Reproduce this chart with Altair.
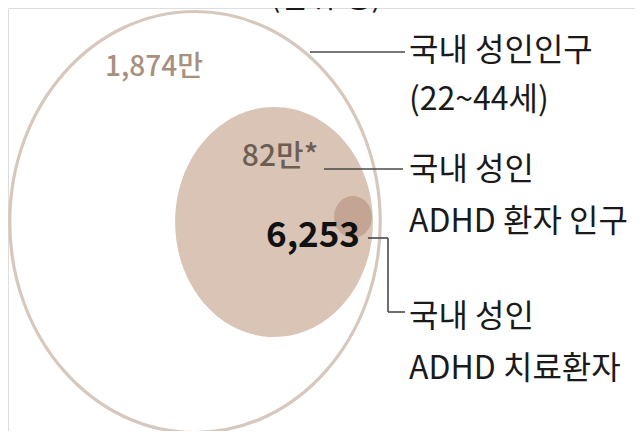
import altair as alt
import pandas as pd

# ---- chart content ----
unit_note = "(단위:명)"
groups = ["국내 성인인구", "국내 성인 ADHD 환자 인구", "국내 성인 ADHD 치료환자"]
value_labels = ["1,874만", "82만*", "6,253"]
group_line1 = ["국내 성인인구", "국내 성인", "국내 성인"]
group_line2 = ["(22~44세)", "ADHD 환자 인구", "ADHD 치료환자"]

# ---- layout (reference pixel space) ----
W, H = 627, 423
OFF = 8
circle_cx = [195, 274, 353]
circle_cy = [222, 222, 217]
circle_h = [421, 230, 42]
circle_aspect = [0.88, 0.86, 0.9]
k = 0.5523


def ellipse_path(a):
    return (f"M 0 -1 C {k*a:.4f} -1 {a} -{k} {a} 0 C {a} {k} {k*a:.4f} 1 0 1 "
            f"C -{k*a:.4f} 1 -{a} {k} -{a} 0 C -{a} -{k} -{k*a:.4f} -1 0 -1 Z")


value_x = [154, 280, 313]
value_y = [68, 157, 236]
value_color = ["#a8907f", "#6d5e55", "#111111"]
value_size = [28, 30, 35]
value_weight = [500, 500, "bold"]

label_x = 409
line1_y = [51, 170, 317]
line2_y = [100, 222, 369]

seg_x = [310, 324, 368, 388, 388]
seg_y = [52, 169, 238, 238, 312]
seg_x2 = [405, 403, 388, 388, 405]
seg_y2 = [52, 169, 238, 312, 312]

xs = alt.Scale(domain=[OFF, OFF + W], range=[0, W], nice=False, zero=False)
ys = alt.Scale(domain=[OFF, OFF + H], range=[0, H], nice=False, zero=False)

circles = pd.DataFrame({
    "group": groups, "cx": circle_cx, "cy": circle_cy,
    "size": [h * h for h in circle_h],
})


def circ(i, **kw):
    return alt.Chart(circles.iloc[[i]]).mark_point(shape=ellipse_path(circle_aspect[i]), **kw).encode(
        x=alt.X("cx:Q", scale=xs, axis=None),
        y=alt.Y("cy:Q", scale=ys, axis=None),
        size=alt.Size("size:Q", scale=None, legend=None),
    )


outer = circ(0, filled=False, stroke="#d7c8be", strokeWidth=3.2, opacity=1)
inner = circ(1, filled=True, fill="#d9c4b6", opacity=1, strokeWidth=0)
small = circ(2, filled=True, fill="#c4a593", opacity=1, strokeWidth=0)

segs = pd.DataFrame({"x": seg_x, "y": seg_y, "x2": seg_x2, "y2": seg_y2})
leaders = alt.Chart(segs).mark_rule(color="#4a4a4a", strokeWidth=1.6).encode(
    x=alt.X("x:Q", scale=xs, axis=None), y=alt.Y("y:Q", scale=ys, axis=None),
    x2="x2:Q", y2="y2:Q",
)

FONT = "Noto Sans CJK KR"

value_layers = []
for i in range(3):
    d = pd.DataFrame({"t": [value_labels[i]], "x": [value_x[i]], "y": [value_y[i]]})
    value_layers.append(
        alt.Chart(d).mark_text(font=FONT, fontSize=value_size[i], fontWeight=value_weight[i],
                               color=value_color[i], align="center", baseline="middle").encode(
            x=alt.X("x:Q", scale=xs, axis=None), y=alt.Y("y:Q", scale=ys, axis=None),
            text="t:N")
    )

labels = pd.DataFrame({
    "t": group_line1 + group_line2,
    "x": [label_x] * 6,
    "y": line1_y + line2_y,
})
label_layer = alt.Chart(labels).mark_text(font=FONT, fontSize=32, color="#1a1a1a",
                                          align="left", baseline="middle").encode(
    x=alt.X("x:Q", scale=xs, axis=None), y=alt.Y("y:Q", scale=ys, axis=None), text="t:N")

note = alt.Chart(pd.DataFrame({"t": [unit_note], "x": [326], "y": [13]})).mark_text(
    font=FONT, fontSize=30, color="#1a1a1a", align="center", baseline="bottom").encode(
    x=alt.X("x:Q", scale=xs, axis=None), y=alt.Y("y:Q", scale=ys, axis=None), text="t:N")

chart = alt.layer(outer, inner, small, leaders, *value_layers, label_layer, note).properties(
    width=W, height=H, autosize=alt.AutoSizeParams(type="none"), padding=0,
).configure_view(stroke=None).configure(background="white")

chart.save("out.html", embed_options={"renderer": "svg", "actions": False})
